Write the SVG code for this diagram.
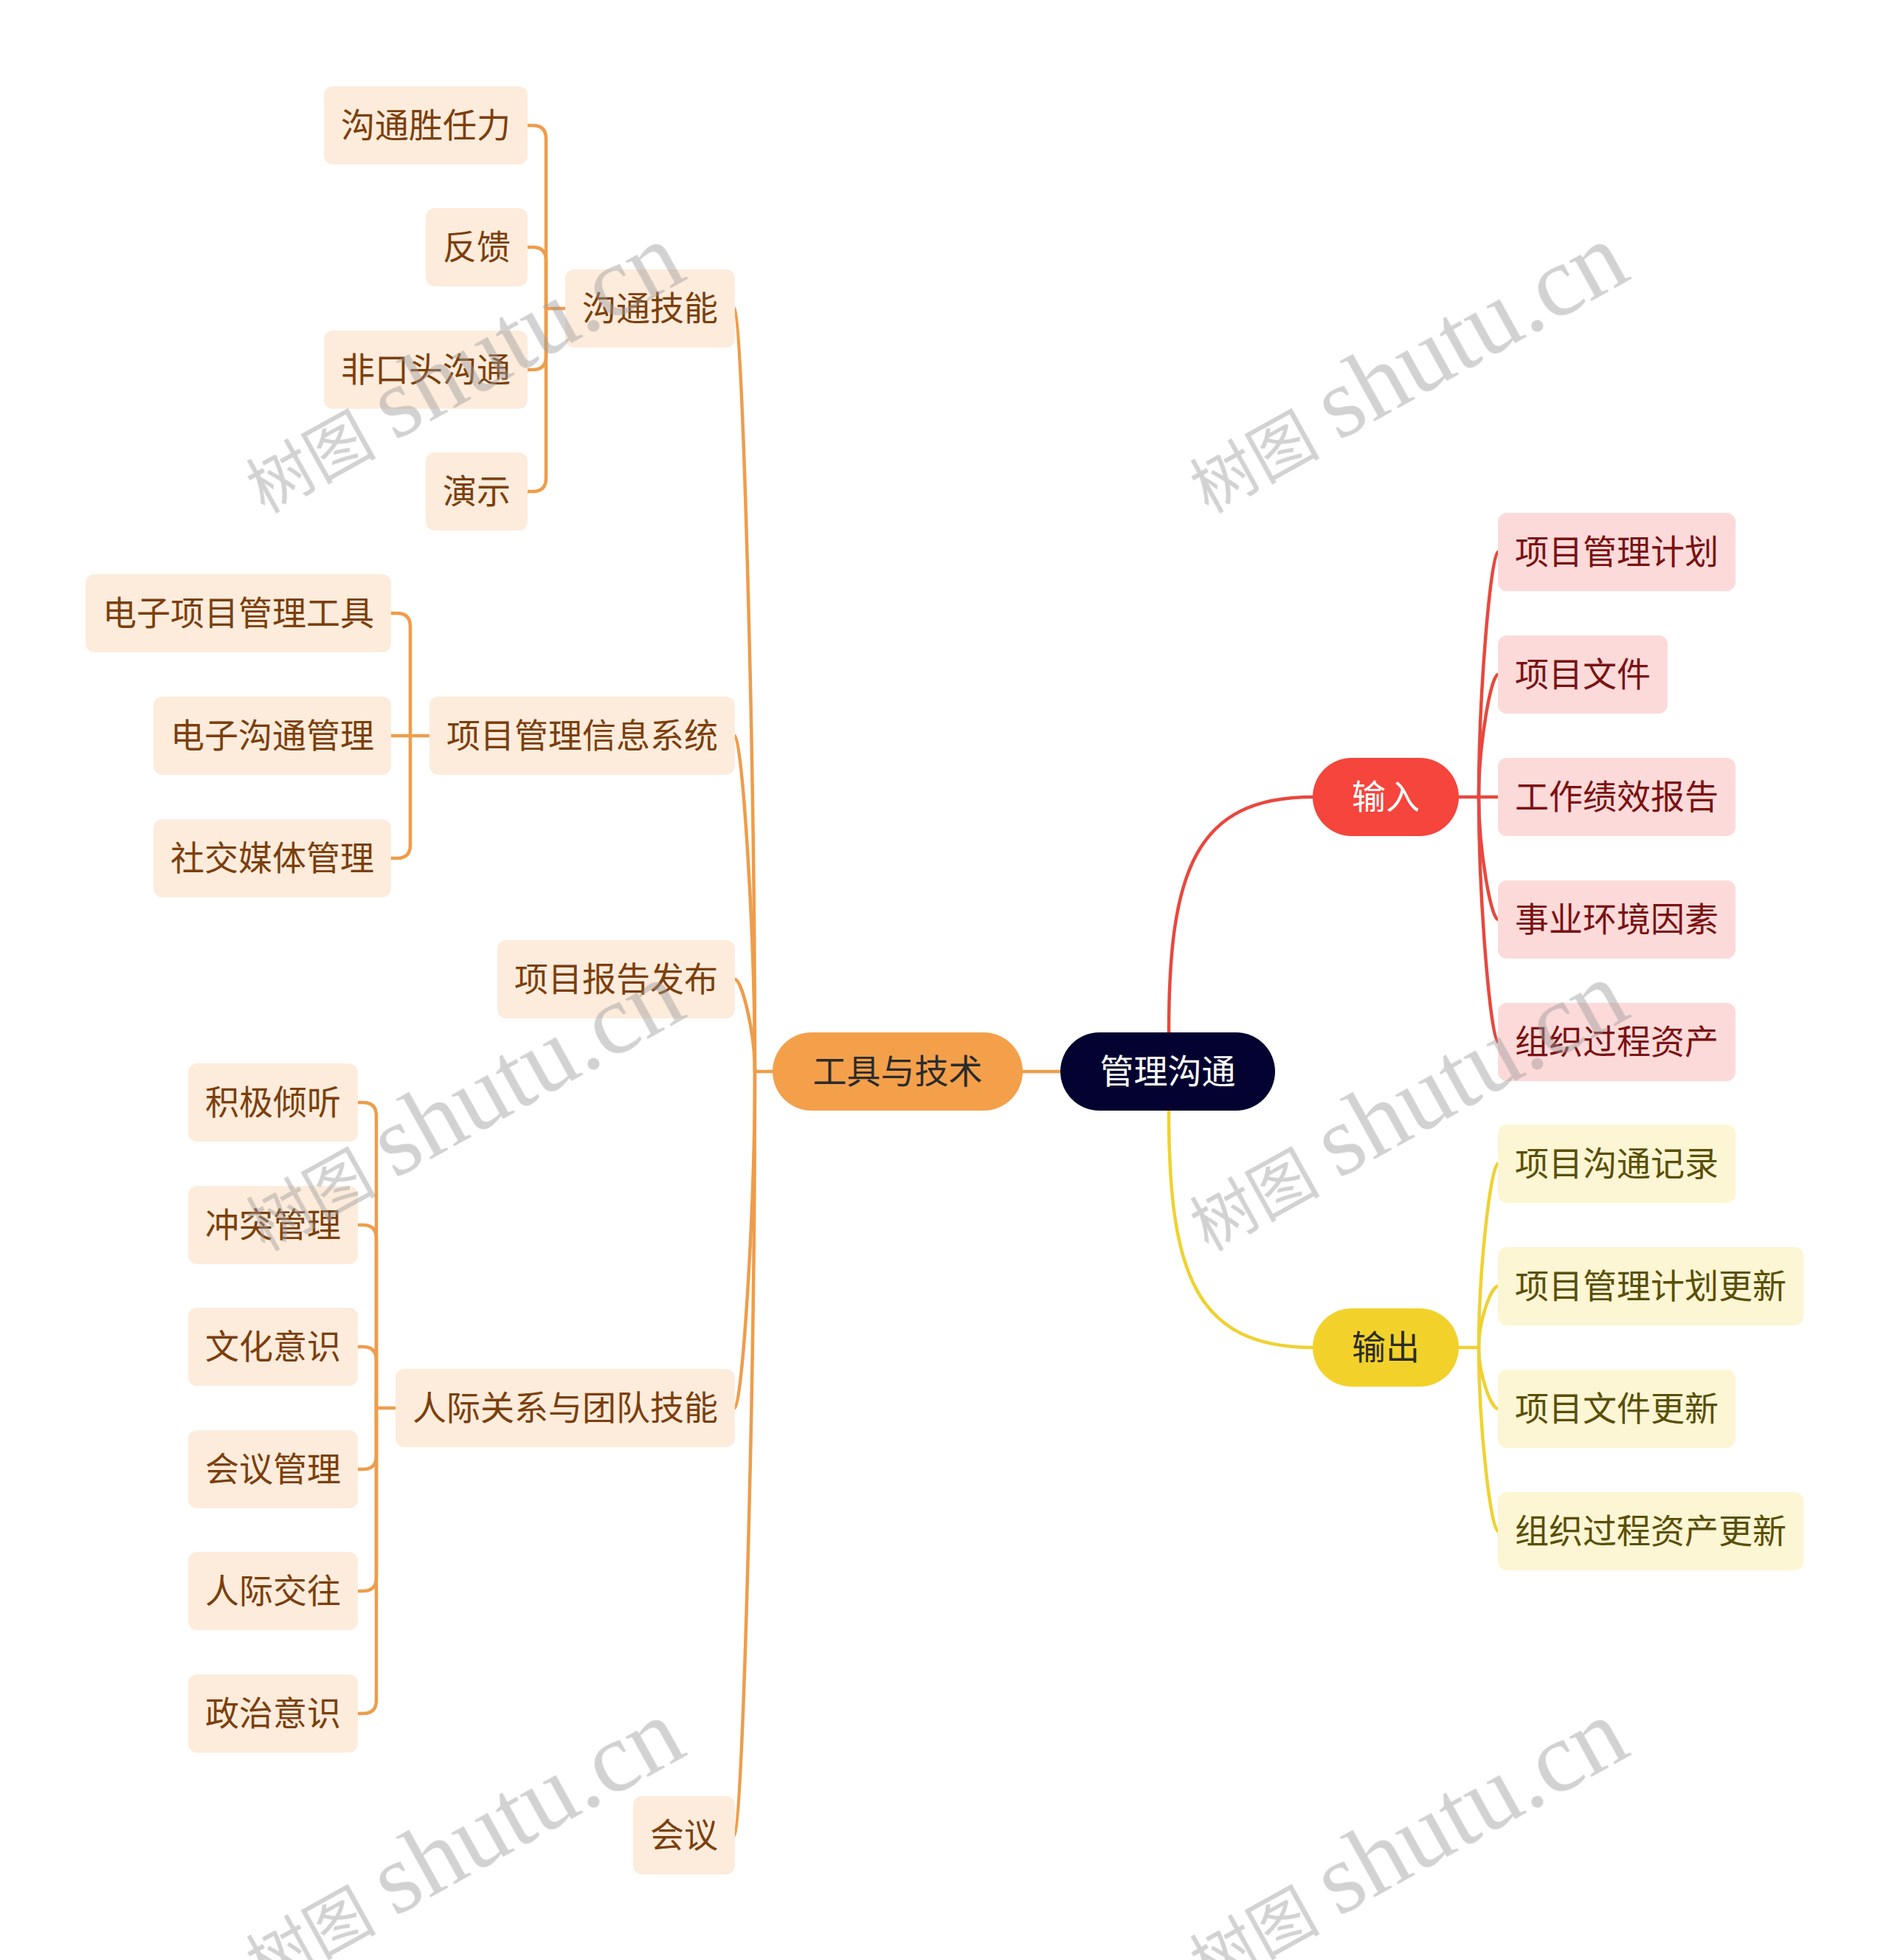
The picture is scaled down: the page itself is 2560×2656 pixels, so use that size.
<svg xmlns="http://www.w3.org/2000/svg" width="2560" height="2656" viewBox="0 0 2560 2656">
<style>
text{font-family:"Noto Sans CJK SC","Noto Sans",sans-serif;font-size:46px;text-anchor:middle}
.c{fill:none;stroke-width:4.5;stroke-linecap:round;stroke-linejoin:round}
.co{stroke:#ee9d4b}.cr{stroke:#e8483e}.cy{stroke:#efd232}
.bo{fill:#fdecdc}.br{fill:#fddada}.by{fill:#fdf6d4}
.to{fill:#7c3f0d}.tr{fill:#7a1212}.ty{fill:#5a4f08}
.wm{fill:#9a9a9a;opacity:0.45}
.wm1{font-family:"Noto Sans CJK SC",sans-serif;font-size:88px;text-anchor:start}
.wm2{font-family:"Liberation Serif",serif;font-size:136px}
</style>
<rect width="2560" height="2656" fill="#ffffff"/>
<g id="connectors">
<path class="c co" d="M1437 1452H1386"/>
<path class="c cr" d="M1584 1399C1584 1180 1620 1080 1779 1080"/>
<path class="c cy" d="M1584 1506C1584 1725 1620 1826 1779 1826"/>
<path class="c cr" d="M1977 1080H2004"/>
<path class="c cr" d="M2004 1080C2004 934 2021 748 2030 748"/>
<path class="c cr" d="M2004 1080C2004 1007 2021 914 2030 914"/>
<path class="c cr" d="M2004 1080H2030"/>
<path class="c cr" d="M2004 1080C2004 1153 2021 1246 2030 1246"/>
<path class="c cr" d="M2004 1080C2004 1226 2021 1412 2030 1412"/>
<path class="c cy" d="M1977 1826H2004"/>
<path class="c cy" d="M2004 1826C2004 1716 2021 1577 2030 1577"/>
<path class="c cy" d="M2004 1826C2004 1789 2021 1743 2030 1743"/>
<path class="c cy" d="M2004 1826C2004 1863 2021 1909 2030 1909"/>
<path class="c cy" d="M2004 1826C2004 1936 2021 2075 2030 2075"/>
<path class="c co" d="M1047 1452H1023"/>
<path class="c co" d="M1023 1452C1023 997 1005 418 996 418"/>
<path class="c co" d="M1023 1452C1023 1252 1005 997 996 997"/>
<path class="c co" d="M1023 1452C1023 1397 1005 1327 996 1327"/>
<path class="c co" d="M1023 1452C1023 1653 1005 1908 996 1908"/>
<path class="c co" d="M1023 1452C1023 1907 1005 2487 996 2487"/>
<path class="c co" d="M766 418H740"/>
<path class="c co" d="M740 418V188Q740 170 722 170H715"/>
<path class="c co" d="M740 418V353Q740 335 722 335H715"/>
<path class="c co" d="M740 418V483Q740 501 722 501H715"/>
<path class="c co" d="M740 418V648Q740 666 722 666H715"/>
<path class="c co" d="M582 997H556"/>
<path class="c co" d="M556 997V849Q556 831 538 831H530"/>
<path class="c co" d="M556 997H530"/>
<path class="c co" d="M556 997V1145Q556 1163 538 1163H530"/>
<path class="c co" d="M536 1908H510"/>
<path class="c co" d="M510 1908V1512Q510 1494 492 1494H485"/>
<path class="c co" d="M510 1908V1678Q510 1660 492 1660H485"/>
<path class="c co" d="M510 1908V1843Q510 1825 492 1825H485"/>
<path class="c co" d="M510 1908V1973Q510 1991 492 1991H485"/>
<path class="c co" d="M510 1908V2138Q510 2156 492 2156H485"/>
<path class="c co" d="M510 1908V2304Q510 2322 492 2322H485"/>
</g>
<g id="root"><rect x="1437" y="1399" width="291" height="106" rx="53" fill="#030230"/><text x="1582.5" y="1468" fill="#ffffff">管理沟通</text></g>
<g id="tools"><rect x="1047" y="1399" width="339" height="106" rx="53" fill="#f4a04b"/><text x="1216.5" y="1468" fill="#2b2b2b">工具与技术</text></g>
<g id="input"><rect x="1779" y="1027" width="198" height="106" rx="53" fill="#f5453c"/><text x="1878" y="1096" fill="#ffffff">输入</text></g>
<g id="output"><rect x="1779" y="1773" width="198" height="106" rx="53" fill="#f2d22a"/><text x="1878" y="1842" fill="#2b2b2b">输出</text></g>
<g id="in1"><rect class="br" x="2030" y="695" width="322" height="106" rx="12"/><text class="tr" x="2191" y="764">项目管理计划</text></g>
<g id="in2"><rect class="br" x="2030" y="861" width="230" height="106" rx="12"/><text class="tr" x="2145" y="930">项目文件</text></g>
<g id="in3"><rect class="br" x="2030" y="1027" width="322" height="106" rx="12"/><text class="tr" x="2191" y="1096">工作绩效报告</text></g>
<g id="in4"><rect class="br" x="2030" y="1193" width="322" height="106" rx="12"/><text class="tr" x="2191" y="1262">事业环境因素</text></g>
<g id="in5"><rect class="br" x="2030" y="1359" width="322" height="106" rx="12"/><text class="tr" x="2191" y="1428">组织过程资产</text></g>
<g id="out1"><rect class="by" x="2030" y="1524" width="322" height="106" rx="12"/><text class="ty" x="2191" y="1593">项目沟通记录</text></g>
<g id="out2"><rect class="by" x="2030" y="1690" width="414" height="106" rx="12"/><text class="ty" x="2237" y="1759">项目管理计划更新</text></g>
<g id="out3"><rect class="by" x="2030" y="1856" width="322" height="106" rx="12"/><text class="ty" x="2191" y="1925">项目文件更新</text></g>
<g id="out4"><rect class="by" x="2030" y="2022" width="414" height="106" rx="12"/><text class="ty" x="2237" y="2091">组织过程资产更新</text></g>
<g id="t1"><rect class="bo" x="766" y="365" width="230" height="106" rx="12"/><text class="to" x="881" y="434">沟通技能</text></g>
<g id="t2"><rect class="bo" x="582" y="944" width="414" height="106" rx="12"/><text class="to" x="789" y="1013">项目管理信息系统</text></g>
<g id="t3"><rect class="bo" x="674" y="1274" width="322" height="106" rx="12"/><text class="to" x="835" y="1343">项目报告发布</text></g>
<g id="t4"><rect class="bo" x="536" y="1855" width="460" height="106" rx="12"/><text class="to" x="766" y="1924">人际关系与团队技能</text></g>
<g id="t5"><rect class="bo" x="858" y="2434" width="138" height="106" rx="12"/><text class="to" x="927" y="2503">会议</text></g>
<g id="t1a"><rect class="bo" x="439" y="117" width="276" height="106" rx="12"/><text class="to" x="577" y="186">沟通胜任力</text></g>
<g id="t1b"><rect class="bo" x="577" y="282" width="138" height="106" rx="12"/><text class="to" x="646" y="351">反馈</text></g>
<g id="t1c"><rect class="bo" x="439" y="448" width="276" height="106" rx="12"/><text class="to" x="577" y="517">非口头沟通</text></g>
<g id="t1d"><rect class="bo" x="577" y="613" width="138" height="106" rx="12"/><text class="to" x="646" y="682">演示</text></g>
<g id="t2a"><rect class="bo" x="116" y="778" width="414" height="106" rx="12"/><text class="to" x="323" y="847">电子项目管理工具</text></g>
<g id="t2b"><rect class="bo" x="208" y="944" width="322" height="106" rx="12"/><text class="to" x="369" y="1013">电子沟通管理</text></g>
<g id="t2c"><rect class="bo" x="208" y="1110" width="322" height="106" rx="12"/><text class="to" x="369" y="1179">社交媒体管理</text></g>
<g id="t4a"><rect class="bo" x="255" y="1441" width="230" height="106" rx="12"/><text class="to" x="370" y="1510">积极倾听</text></g>
<g id="t4b"><rect class="bo" x="255" y="1607" width="230" height="106" rx="12"/><text class="to" x="370" y="1676">冲突管理</text></g>
<g id="t4c"><rect class="bo" x="255" y="1772" width="230" height="106" rx="12"/><text class="to" x="370" y="1841">文化意识</text></g>
<g id="t4d"><rect class="bo" x="255" y="1938" width="230" height="106" rx="12"/><text class="to" x="370" y="2007">会议管理</text></g>
<g id="t4e"><rect class="bo" x="255" y="2103" width="230" height="106" rx="12"/><text class="to" x="370" y="2172">人际交往</text></g>
<g id="t4f"><rect class="bo" x="255" y="2269" width="230" height="106" rx="12"/><text class="to" x="370" y="2338">政治意识</text></g>
<g id="watermarks" class="wm">
<text class="wm1" transform="translate(358 696) rotate(-29)">树图<tspan class="wm2" dx="26">shutu.cn</tspan></text>
<text class="wm1" transform="translate(1637 696) rotate(-29)">树图<tspan class="wm2" dx="26">shutu.cn</tspan></text>
<text class="wm1" transform="translate(358 1696) rotate(-29)">树图<tspan class="wm2" dx="26">shutu.cn</tspan></text>
<text class="wm1" transform="translate(1637 1696) rotate(-29)">树图<tspan class="wm2" dx="26">shutu.cn</tspan></text>
<text class="wm1" transform="translate(358 2696) rotate(-29)">树图<tspan class="wm2" dx="26">shutu.cn</tspan></text>
<text class="wm1" transform="translate(1637 2696) rotate(-29)">树图<tspan class="wm2" dx="26">shutu.cn</tspan></text>
</g>
</svg>
